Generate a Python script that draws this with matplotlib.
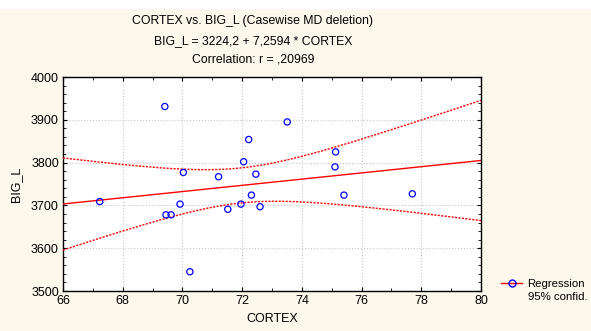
import numpy as np
import matplotlib
matplotlib.use("Agg")
import matplotlib.pyplot as plt
from matplotlib.ticker import MultipleLocator

plt.rcParams['font.family'] = ['Liberation Sans', 'DejaVu Sans']

# data
cortex = [69.41, 72.22, 72.05, 70.03, 71.21, 72.46, 67.23, 69.92, 72.31, 71.96,
          71.52, 72.60, 69.45, 69.62, 70.25, 73.51, 75.13, 75.11, 75.41, 77.70]
big_l = [3931, 3854, 3802, 3777, 3767, 3773, 3709, 3703, 3724, 3703,
         3691, 3697, 3678, 3678, 3545, 3895, 3825, 3790, 3724, 3727]
intercept = 3224.2
slope = 7.2594
r_value = ",20969"

x = np.array(cortex)
y = np.array(big_l)
n = len(x)
xs = np.linspace(66, 80, 200)
fit = intercept + slope * xs
resid = y - (intercept + slope * x)
s = np.sqrt(np.sum(resid ** 2) / (n - 2))
sxx = np.sum((x - x.mean()) ** 2)
t = 2.101  # t(0.975, 18)
half = t * s * np.sqrt(1.0 / n + (xs - x.mean()) ** 2 / sxx)

cream = '#fdf8ec'
fig = plt.figure(figsize=(5.91, 3.31), dpi=100, facecolor=cream)
fig.patches.append(plt.Rectangle((0, 1 - 8 / 331), 1, 8 / 331, transform=fig.transFigure,
                                 color='white', zorder=0))
ax = fig.add_axes([63 / 591, 1 - 291 / 331, 418 / 591, 214 / 331])
ax.set_facecolor('white')

ax.plot(xs, fit, color='#ff0000', lw=1.0, zorder=3)
ax.plot(xs, fit + half, color='#ff0000', lw=1.0, ls=(0, (1.5, 1)), zorder=3)
ax.plot(xs, fit - half, color='#ff0000', lw=1.0, ls=(0, (1.5, 1)), zorder=3)
ax.scatter(x, y, s=20, facecolors='none', edgecolors='#0000ff', linewidths=0.9, zorder=4)

ax.set_xlim(66, 80)
ax.set_ylim(3500, 4000)
ax.xaxis.set_major_locator(MultipleLocator(2))
ax.xaxis.set_minor_locator(MultipleLocator(1))
ax.yaxis.set_major_locator(MultipleLocator(100))
ax.yaxis.set_minor_locator(MultipleLocator(20))
ax.tick_params(which='both', direction='in', top=True, right=True, labelsize=9, pad=3)
ax.tick_params(which='major', length=3, width=0.8)
ax.tick_params(which='minor', length=2, width=0.6)
ax.grid(True, which='major', color='#c8c8c8', ls=':', lw=0.8)
for sp in ax.spines.values():
    sp.set_linewidth(1.0)

ax.set_xlabel('CORTEX', fontsize=9, labelpad=4)
ax.set_ylabel('BIG_L', fontsize=9, labelpad=6)

cx = 0.428
fig.text(cx, 1 - 21 / 331, 'CORTEX vs. BIG_L (Casewise MD deletion)', ha='center', va='center', fontsize=8.8)
fig.text(cx, 1 - 41 / 331, 'BIG_L = %s + %s * CORTEX' % (str(intercept).replace('.', ','), str(slope).replace('.', ',')),
         ha='center', va='center', fontsize=8.8)
fig.text(cx, 1 - 60 / 331, 'Correlation: r = %s' % r_value, ha='center', va='center', fontsize=8.8)

# legend: handle beside the first line, second line as plain text
h, = ax.plot([], [], color='#ff0000', lw=1.0, marker='o', mfc='none', mec='#0000ff', ms=5)
fig.legend([h], ['Regression'], loc='center left', bbox_to_anchor=(499 / 591, 1 - 284 / 331),
           frameon=False, fontsize=8.2, handlelength=1.8, handletextpad=0.5, borderaxespad=0, borderpad=0.2)
fig.text(528 / 591, 1 - 297 / 331, '95% confid.', ha='left', va='center', fontsize=8.2)

fig.savefig('out.png', dpi=100, facecolor=cream)
